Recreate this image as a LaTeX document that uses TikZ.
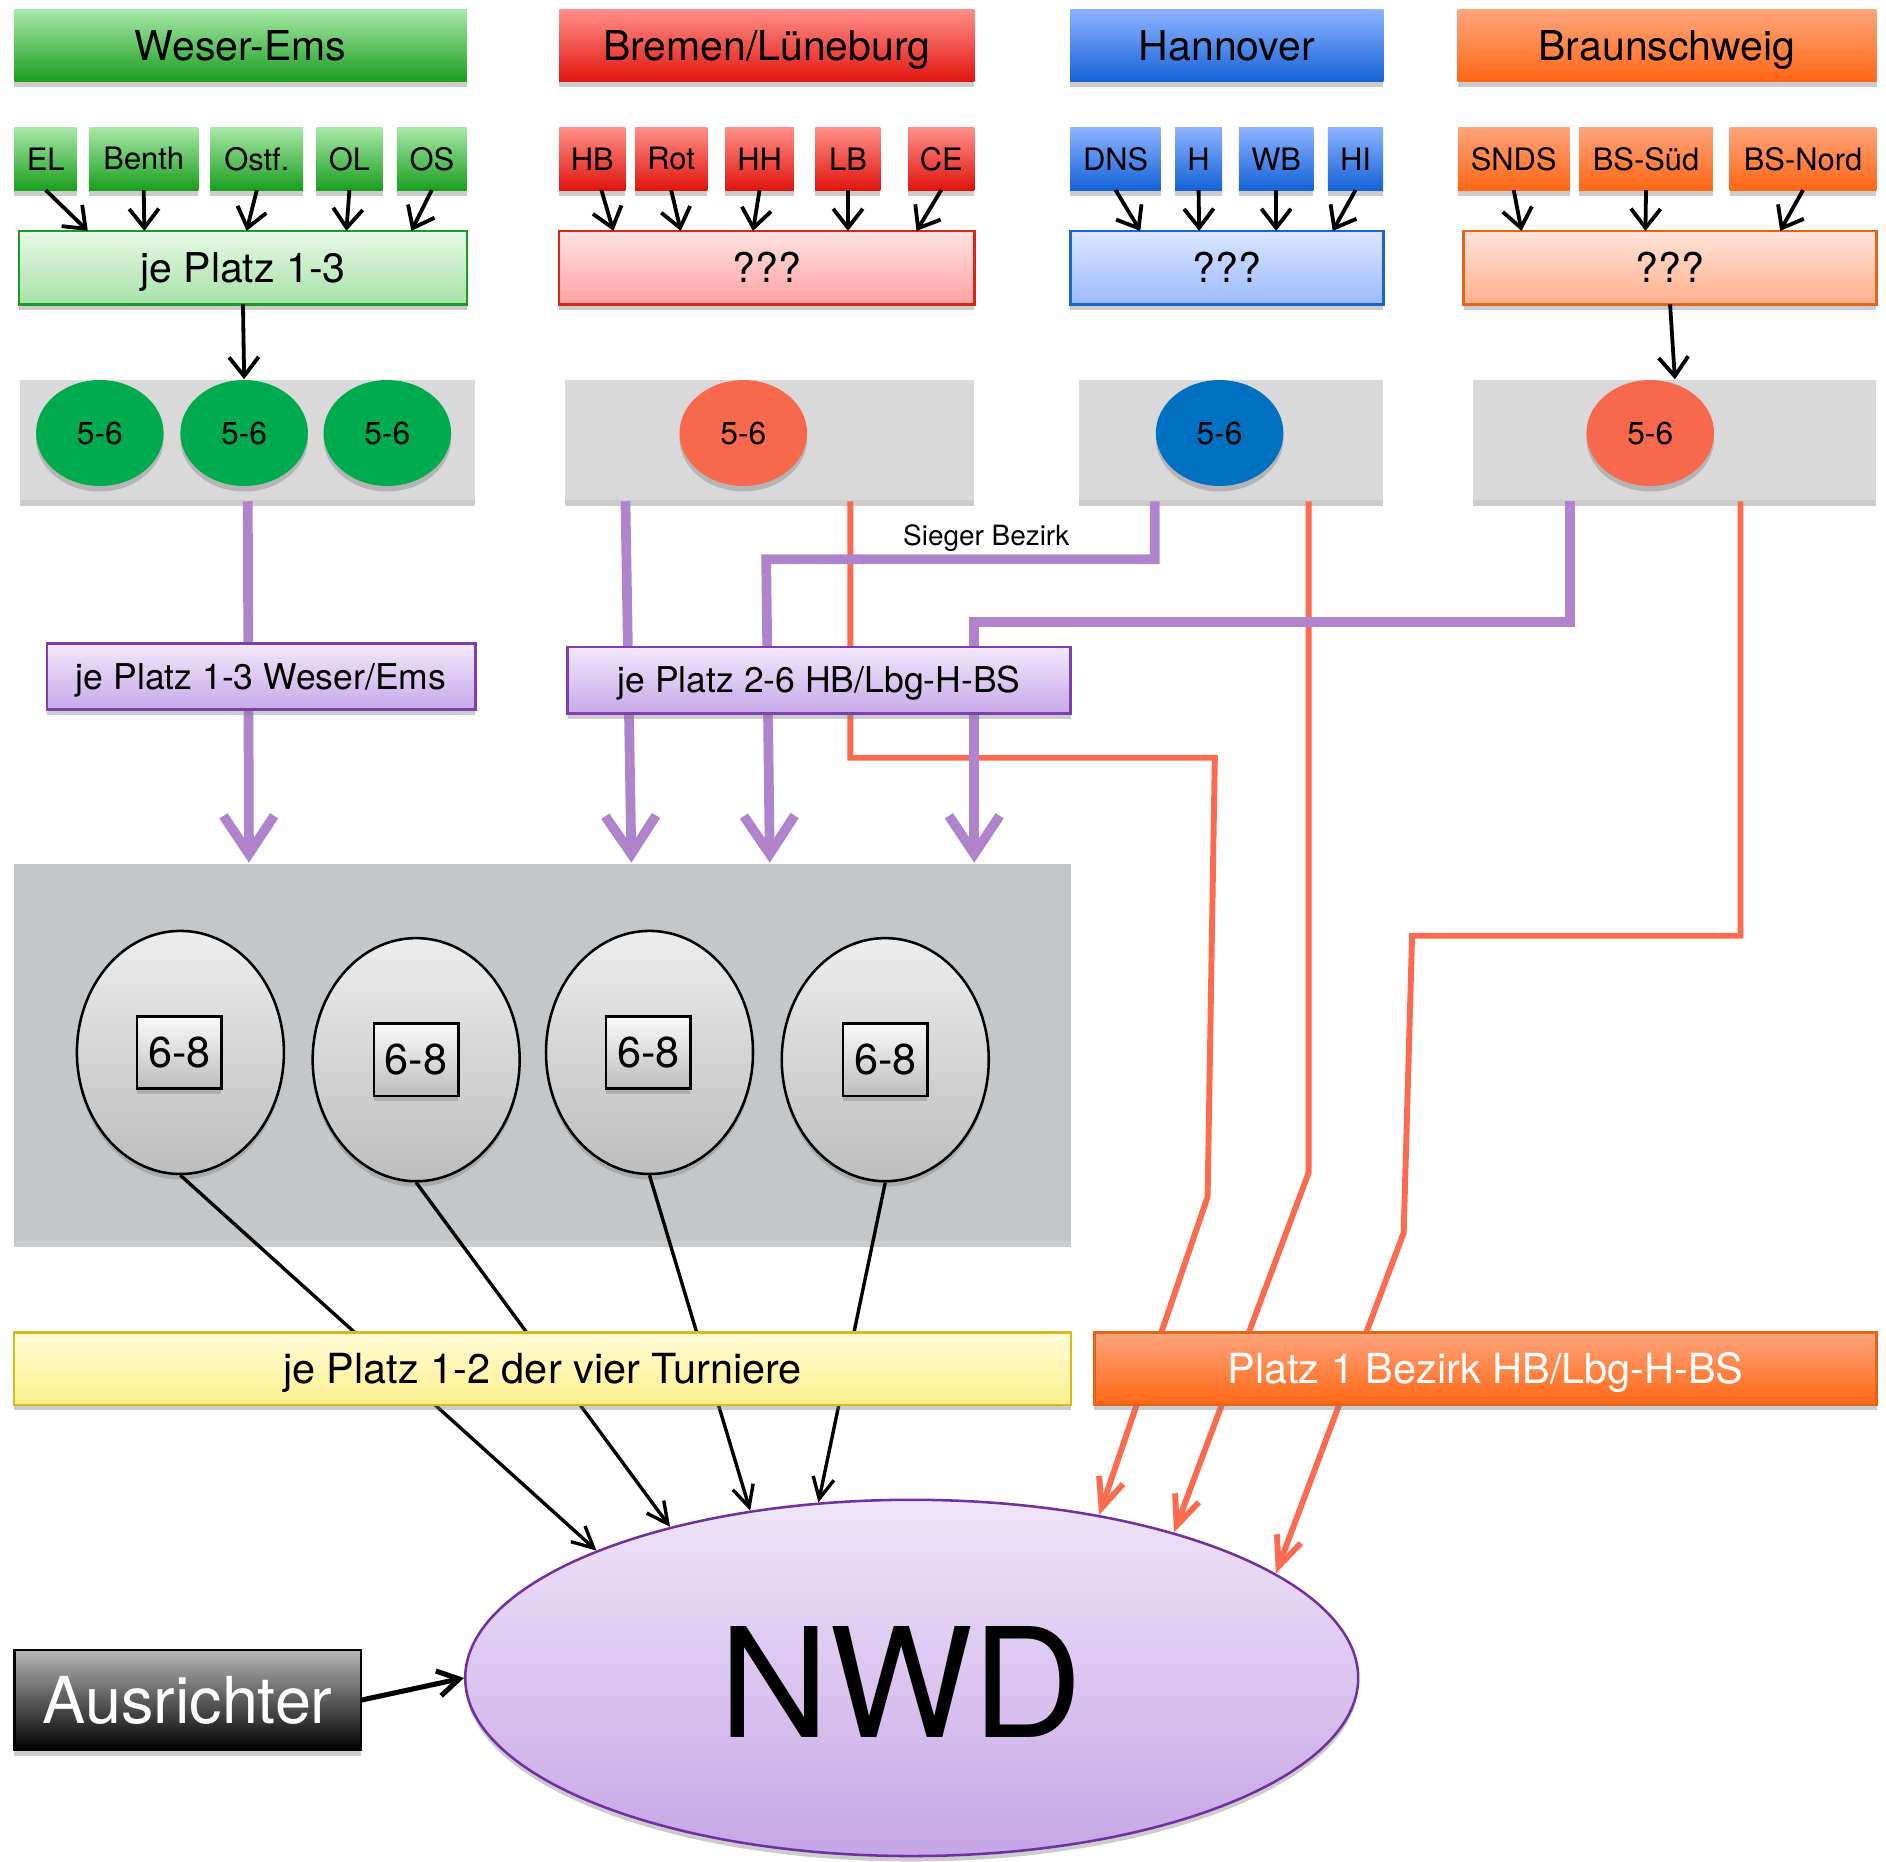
\documentclass[tikz,border=0pt]{standalone}
\usepackage{fontspec}
\setmainfont{TeX Gyre Heros}
\usetikzlibrary{arrows.meta,shadows,shapes.geometric}
\newcommand{\fsz}[1]{\fontsize{#1}{#1}\selectfont}
\definecolor{hgT}{HTML}{A8E8A8}\definecolor{hgB}{HTML}{1A9E1E}
\definecolor{hrT}{HTML}{FF8F88}\definecolor{hrB}{HTML}{E0140E}
\definecolor{hbT}{HTML}{8DB2FF}\definecolor{hbB}{HTML}{1463D6}
\definecolor{hoT}{HTML}{FFA57C}\definecolor{hoB}{HTML}{FF6614}
\definecolor{lgT}{HTML}{E8F8E8}\definecolor{lgB}{HTML}{A6E2A6}\definecolor{lgD}{HTML}{1E9A28}
\definecolor{lrT}{HTML}{FFE2E2}\definecolor{lrB}{HTML}{FFA2A2}\definecolor{lrD}{HTML}{D42A14}
\definecolor{lbT}{HTML}{DCE6FF}\definecolor{lbB}{HTML}{9BBAFF}\definecolor{lbD}{HTML}{1A66CC}
\definecolor{loT}{HTML}{FFE4D8}\definecolor{loB}{HTML}{FFB08C}\definecolor{loD}{HTML}{E2651A}
\definecolor{panelc}{HTML}{D9D9D9}\definecolor{bigpc}{HTML}{C3C7CA}
\definecolor{eG}{HTML}{00AA4F}\definecolor{eR}{HTML}{F7694C}\definecolor{eB}{HTML}{0070C0}
\definecolor{purc}{HTML}{B084CC}\definecolor{coral}{HTML}{FC6B4F}
\definecolor{lvT}{HTML}{F1E8FA}\definecolor{lvB}{HTML}{C7A9E9}\definecolor{lvD}{HTML}{7D3FB0}
\definecolor{gyT}{HTML}{EDEDED}\definecolor{gyB}{HTML}{BDBDBD}
\definecolor{ylT}{HTML}{FFFCD8}\definecolor{ylB}{HTML}{FDF08C}\definecolor{ylD}{HTML}{D9BA1C}
\definecolor{nwT}{HTML}{EFE5F9}\definecolor{nwB}{HTML}{C6A6E6}\definecolor{nwD}{HTML}{7030A0}
\definecolor{auT}{HTML}{B5B5B5}
\begin{document}
\begin{tikzpicture}[x=0.01cm,y=-0.01cm,
  box/.style={rectangle,inner sep=0pt,outer sep=0pt,align=center,text=black},
  shd/.style={drop shadow={shadow xshift=0pt,shadow yshift=-1.3pt,opacity=0.4}},
  gsh/.style={top color=hgT,bottom color=hgB},
  rsh/.style={top color=hrT,bottom color=hrB},
  bsh/.style={top color=hbT,bottom color=hbB},
  osh/.style={top color=hoT,bottom color=hoB},
  hdr/.style={box,shd,minimum height=0.6cm,font=\fsz{9.7pt},text height=7pt,text depth=0pt},
  sml/.style={box,shd,minimum height=0.52cm,font=\fsz{7.3pt}},
  rowbox/.style={box,shd,line width=0.6pt,minimum height=0.61cm,font=\fsz{9.7pt},text height=7pt,text depth=0pt},
  pnl/.style={rectangle,inner sep=0pt,fill=panelc,shd,minimum height=1cm},
  e56/.style={ellipse,shd,inner sep=0pt,minimum width=1.06cm,minimum height=0.88cm,font=\fsz{7.5pt}},
  lav/.style={box,shd,draw=lvD,line width=0.6pt,top color=lvT,bottom color=lvB,minimum height=0.55cm,font=\fsz{8.4pt},text height=6pt,text depth=0pt},
  e68/.style={ellipse,shd,draw=black,line width=0.6pt,top color=gyT,bottom color=gyB,inner sep=0pt,minimum width=1.72cm,minimum height=2.02cm},
  sq/.style={box,shd,draw=black,line width=0.6pt,top color=white!96!gray,bottom color=gyB,minimum width=0.70cm,minimum height=0.60cm,font=\fsz{10.2pt}},
  blk/.style={draw=black,line width=0.9pt,-{Straight Barb[length=4.5pt,width=7pt]}},
  pur/.style={draw=purc,line width=2.3pt,line join=miter,-{Straight Barb[length=9pt,width=12pt]}},
  cor/.style={draw=coral,line width=1.4pt,line join=miter,-{Straight Barb[length=7pt,width=6pt]}},
  nwa/.style={draw=black,line width=0.8pt,-{Straight Barb[length=5pt,width=5pt]}},
  ausa/.style={draw=black,line width=1.2pt,-{Straight Barb[length=5pt,width=6pt]}}
]
\useasboundingbox (0,0) rectangle (1568,1548);
% headers
\node[hdr,gsh,minimum width=3.76cm] (weser) at (200,38) {Weser-Ems};
\node[hdr,rsh,minimum width=3.45cm] (bremen) at (637.5,38) {Bremen/Lüneburg};
\node[hdr,bsh,minimum width=2.60cm] (hann) at (1020,38) {Hannover};
\node[hdr,osh,minimum width=3.48cm] (braun) at (1386,38) {Braunschweig};
% small boxes
\node[sml,gsh,minimum width=0.52cm] (el) at (38,132) {EL};
\node[sml,gsh,minimum width=0.91cm] (benth) at (119.5,132) {Benth};
\node[sml,gsh,minimum width=0.77cm] (ostf) at (213.5,132) {Ostf.};
\node[sml,gsh,minimum width=0.55cm] (ol) at (290.5,132) {OL};
\node[sml,gsh,minimum width=0.58cm] (os) at (359,132) {OS};
\node[sml,rsh,minimum width=0.55cm] (hb) at (492.5,132) {HB};
\node[sml,rsh,minimum width=0.60cm] (rot) at (558,132) {Rot};
\node[sml,rsh,minimum width=0.57cm] (hh) at (631.5,132) {HH};
\node[sml,rsh,minimum width=0.54cm] (lb) at (705,132) {LB};
\node[sml,rsh,minimum width=0.55cm] (ce) at (782.5,132) {CE};
\node[sml,bsh,minimum width=0.75cm] (dns) at (927.5,132) {DNS};
\node[sml,bsh,minimum width=0.39cm] (hn) at (996.5,132) {H};
\node[sml,bsh,minimum width=0.62cm] (wb) at (1061,132) {WB};
\node[sml,bsh,minimum width=0.46cm] (hi) at (1127,132) {HI};
\node[sml,osh,minimum width=0.93cm] (snds) at (1258.5,132) {SNDS};
\node[sml,osh,minimum width=1.11cm] (bss) at (1368.5,132) {BS-Süd};
\node[sml,osh,minimum width=1.22cm] (bsn) at (1499,132) {BS-Nord};
% second row
\node[rowbox,draw=lgD,top color=lgT,bottom color=lgB,minimum width=3.72cm] (jp13) at (202,222.5) {je Platz 1-3};
\node[rowbox,draw=lrD,top color=lrT,bottom color=lrB,minimum width=3.45cm] (q1) at (637.5,222.5) {???};
\node[rowbox,draw=lbD,top color=lbT,bottom color=lbB,minimum width=2.60cm] (q2) at (1020,222.5) {???};
\node[rowbox,draw=loD,top color=loT,bottom color=loB,minimum width=3.43cm] (q3) at (1388.5,222.5) {???};
% panels
\node[pnl,minimum width=3.78cm] (p1) at (206,366) {};
\node[pnl,minimum width=3.40cm] (p2) at (640,366) {};
\node[pnl,minimum width=2.53cm] (p3) at (1023.5,366) {};
\node[pnl,minimum width=3.35cm] (p4) at (1392.5,366) {};
\node[e56,fill=eG] (g1) at (83,360) {5-6};
\node[e56,fill=eG] (g2) at (203,360) {5-6};
\node[e56,fill=eG] (g3) at (322,360) {5-6};
\node[e56,fill=eR] (r1) at (618,360) {5-6};
\node[e56,fill=eB] (b1) at (1014,360) {5-6};
\node[e56,fill=eR] (o1) at (1372,360) {5-6};
% big panel
\node[rectangle,inner sep=0pt,fill=bigpc,shd,minimum width=8.78cm,minimum height=3.14cm] (bigp) at (451,875) {};
\node[e68] (e1) at (150,875) {};
\node[e68] (e2) at (346,881) {};
\node[e68] (e3) at (540,875) {};
\node[e68] (e4) at (736,881) {};
\node[sq] (s1) at (149,875) {6-8};
\node[sq] (s2) at (346,881) {6-8};
\node[sq] (s3) at (539,875) {6-8};
\node[sq] (s4) at (736,881) {6-8};
% NWD and Ausrichter
\node[ellipse,shd,draw=nwD,line width=0.6pt,top color=nwT,bottom color=nwB,inner sep=0pt,minimum width=7.42cm,minimum height=2.96cm] (nwd) at (758,1395) {};
\node[font=\fsz{36pt},inner sep=0pt] (nwdt) at (749,1398) {NWD};
\node[box,shd,draw=black,line width=0.6pt,top color=auT,bottom color=black,text=white,minimum width=2.88cm,minimum height=0.83cm,font=\fsz{15.3pt}] (aus) at (156,1413.5) {Ausrichter};
\node[font=\fsz{6.6pt},inner sep=0pt] (sieger) at (820,447) {Sieger Bezirk};
% small black arrows
\draw[blk] (el.south) -- (73,0 |- jp13.north);
\draw[blk] (benth.south) -- (120,0 |- jp13.north);
\draw[blk] (ostf.south) -- (205,0 |- jp13.north);
\draw[blk] (ol.south) -- (288,0 |- jp13.north);
\draw[blk] (os.south) -- (342,0 |- jp13.north);
\draw[blk] (500,0 |- hb.south) -- (510,0 |- q1.north);
\draw[blk] (rot.south) -- (566,0 |- q1.north);
\draw[blk] (hh.south) -- (626,0 |- q1.north);
\draw[blk] (lb.south) -- (705,0 |- q1.north);
\draw[blk] (ce.south) -- (762,0 |- q1.north);
\draw[blk] (dns.south) -- (948,0 |- q2.north);
\draw[blk] (hn.south) -- (997,0 |- q2.north);
\draw[blk] (wb.south) -- (1061,0 |- q2.north);
\draw[blk] (hi.south) -- (1108,0 |- q2.north);
\draw[blk] (snds.south) -- (1265,0 |- q3.north);
\draw[blk] (bss.south) -- (1368,0 |- q3.north);
\draw[blk] (bsn.south) -- (1480,0 |- q3.north);
\draw[blk] (jp13.south) -- (g2.north);
\draw[blk] (q3.south) -- (p4.north);
% coral lines
\draw[cor] (707,0 |- p2.south) -- (707,630) -- (1010,630) -- (1004,995) -- (nwd.41);
\draw[cor] (1088,0 |- p3.south) -- (1088,975) -- (nwd.29);
\draw[cor] (1447,0 |- p4.south) -- (1447,778) -- (1174,778) -- (1167,1025) -- (nwd.16);
% purple lines
\draw[pur] (206,0 |- p1.south) -- (207,0 |- bigp.north);
\draw[pur] (520,0 |- p2.south) -- (525,0 |- bigp.north);
\draw[pur] (960,0 |- p3.south) -- (960,465) -- (637,465) -- (640,0 |- bigp.north);
\draw[pur] (1305,0 |- p4.south) -- (1305,517) -- (810,517) -- (810,0 |- bigp.north);
% black to NWD
\draw[nwa] (e1.south) -- (nwd.158);
\draw[nwa] (e2.south) -- (nwd.148);
\draw[nwa] (e3.south) -- (nwd.134);
\draw[nwa] (e4.south) -- (nwd.118);
\draw[ausa] (aus.east) -- (nwd.west);
% boxes on top of lines
\node[lav,minimum width=3.56cm] (we) at (217,562.5) {je Platz 1-3 Weser/Ems};
\node[lav,minimum width=4.18cm] (hbl) at (681,565.5) {je Platz 2-6 HB/Lbg-H-BS};
\node[box,shd,draw=ylD,line width=0.6pt,top color=ylT,bottom color=ylB,minimum width=8.78cm,minimum height=0.6cm,font=\fsz{9.8pt},text height=7pt,text depth=0pt] (yel) at (451,1138) {je Platz 1-2 der vier Turniere};
\node[box,shd,draw=loD,line width=0.6pt,top color=hoT,bottom color=hoB,text=white,minimum width=6.50cm,minimum height=0.6cm,font=\fsz{9.8pt},text height=7pt,text depth=0pt] (org) at (1235,1138) {Platz 1 Bezirk HB/Lbg-H-BS};
\end{tikzpicture}
\end{document}
